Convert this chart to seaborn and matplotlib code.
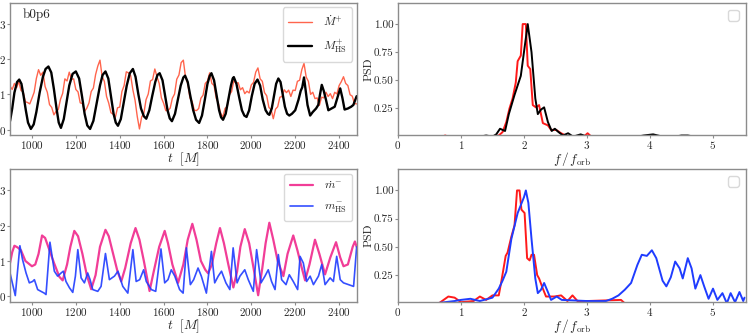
import numpy as np
import pandas as pd
import matplotlib
matplotlib.use("Agg")
import matplotlib.pyplot as plt
import seaborn as sns

# =========================================================
# DATA
# =========================================================

# top-left: accretion rate Mdot+ (noisy), sampled every 10 M
t_mdot_plus = np.arange(900, 2481, 10)
mdot_plus = [
    1.23, 1.14, 1.31, 1.19, 1.37, 1.11, 1.07, 0.79, 0.77, 0.73,
    0.89, 1.06, 1.45, 1.70, 1.54, 1.63, 1.22, 1.06, 0.71, 0.63,
    0.42, 0.52, 0.57, 0.86, 1.03, 1.44, 1.38, 1.63, 1.43, 1.44,
    1.14, 1.07, 0.76, 0.74, 0.52, 0.61, 0.76, 1.08, 1.18, 1.56,
    1.80, 1.97, 1.50, 1.37, 0.94, 0.75, 0.48, 0.44, 0.35, 0.62,
    0.64, 1.08, 1.25, 1.64, 1.61, 1.53, 1.13, 0.83, 0.37, 0.02,
    0.36, 0.46, 0.85, 1.01, 1.38, 1.42, 1.72, 1.50, 1.31, 0.90,
    0.75, 0.54, 0.54, 0.61, 0.89, 1.01, 1.43, 1.55, 1.90, 1.97,
    1.48, 1.31, 0.90, 0.80, 0.55, 0.54, 0.60, 0.89, 0.98, 1.31,
    1.38, 1.61, 1.31, 1.25, 0.89, 0.74, 0.47, 0.35, 0.60, 0.66,
    0.99, 1.08, 1.39, 1.32, 1.33, 1.13, 1.19, 1.02, 1.09, 1.04,
    1.27, 1.34, 1.63, 1.75, 1.44, 1.37, 1.05, 0.96, 0.63, 0.57,
    0.31, 0.58, 0.65, 0.92, 0.94, 1.13, 1.05, 1.12, 0.94, 1.12,
    1.11, 1.37, 1.40, 1.70, 1.88, 1.49, 1.37, 1.00, 1.06, 0.88,
    0.90, 0.69, 0.92, 0.90, 1.06, 0.94, 1.02, 0.88, 1.06, 1.01,
    1.25, 1.36, 1.50, 1.31, 1.25, 0.99, 0.95, 0.74, 0.73,
]

# top-left: hot-spot mass M_HS+
t_mhs_plus = [
    900, 910, 920, 932, 942, 952, 962, 972, 982, 995,
    1008, 1020, 1035, 1050, 1062, 1075, 1088, 1100, 1112, 1122,
    1132, 1145, 1158, 1170, 1185, 1200, 1215, 1228, 1240, 1252,
    1265, 1280, 1295, 1310, 1322, 1335, 1348, 1360, 1372, 1382,
    1392, 1405, 1418, 1432, 1446, 1460, 1472, 1485, 1497, 1510,
    1521, 1535, 1548, 1562, 1572, 1582, 1595, 1607, 1618, 1628,
    1638, 1652, 1665, 1678, 1690, 1698, 1710, 1722, 1735, 1748,
    1762, 1775, 1788, 1800, 1810, 1818, 1830, 1842, 1853, 1862,
    1871, 1883, 1895, 1907, 1915, 1920, 1932, 1945, 1957, 1968,
    1978, 1990, 2002, 2015, 2028, 2040, 2052, 2065, 2075, 2082,
    2093, 2103, 2113, 2123, 2133, 2143, 2153, 2163, 2173, 2185,
    2200, 2215, 2225, 2232, 2240, 2248, 2256, 2268, 2280, 2295,
    2305, 2313, 2321, 2330, 2340, 2351, 2365, 2380, 2392, 2405,
    2415, 2425, 2440, 2455, 2465, 2480,
]
mhs_plus = [
    0.24, 0.60, 1.05, 1.35, 1.42, 1.30, 0.95, 0.55, 0.20, 0.02,
    0.15, 0.50, 1.05, 1.50, 1.72, 1.79, 1.62, 1.15, 0.60, 0.20,
    0.05, 0.30, 0.80, 1.25, 1.58, 1.65, 1.45, 0.95, 0.45, 0.12,
    0.02, 0.25, 0.75, 1.25, 1.55, 1.65, 1.45, 0.95, 0.45, 0.20,
    0.11, 0.30, 0.75, 1.25, 1.60, 1.72, 1.50, 1.00, 0.60, 0.38,
    0.31, 0.55, 0.95, 1.35, 1.55, 1.60, 1.40, 0.95, 0.55, 0.32,
    0.24, 0.45, 0.85, 1.25, 1.48, 1.53, 1.35, 0.95, 0.55, 0.28,
    0.19, 0.40, 0.85, 1.30, 1.52, 1.60, 1.40, 0.95, 0.55, 0.35,
    0.28, 0.45, 0.85, 1.25, 1.45, 1.49, 1.30, 0.90, 0.55, 0.40,
    0.36, 0.55, 0.95, 1.30, 1.42, 1.25, 0.85, 0.55, 0.45, 0.42,
    0.60, 0.95, 1.30, 1.45, 1.35, 1.00, 0.65, 0.45, 0.40, 0.45,
    0.55, 0.85, 1.10, 1.20, 1.48, 1.10, 0.70, 0.40, 0.50, 0.60,
    0.70, 1.00, 1.27, 1.10, 0.85, 0.55, 0.60, 0.65, 0.90, 1.17,
    0.90, 0.57, 0.60, 0.65, 0.70, 0.95,
]

# bottom-left: accretion rate mdot- (slightly noisy)
t_mdot_minus = [
    900, 910, 920, 935, 950, 970, 990, 1000, 1015, 1030,
    1046, 1060, 1080, 1100, 1125, 1140, 1160, 1175, 1193, 1210,
    1230, 1250, 1270, 1290, 1310, 1335, 1350, 1370, 1390, 1407,
    1425, 1450, 1472, 1490, 1510, 1536, 1555, 1580, 1605, 1620,
    1640, 1666, 1690, 1710, 1731, 1750, 1770, 1790, 1803, 1820,
    1840, 1857, 1875, 1895, 1918, 1935, 1950, 1970, 1990, 2010,
    2031, 2050, 2065, 2082, 2100, 2120, 2146, 2165, 2191, 2210,
    2230, 2245, 2265, 2290, 2310, 2336, 2360, 2386, 2405, 2420,
    2440, 2462, 2472, 2480,
]
mdot_minus = [
    0.94, 1.25, 1.43, 1.38, 1.30, 1.00, 0.90, 0.85, 0.90, 1.20,
    1.72, 1.65, 1.30, 0.95, 0.55, 0.45, 0.90, 1.40, 1.85, 1.70,
    1.20, 0.60, 0.20, 0.60, 1.40, 1.88, 1.70, 1.20, 0.70, 0.42,
    0.80, 1.50, 1.93, 1.60, 1.00, 0.15, 0.70, 1.40, 1.85, 1.50,
    0.90, 0.38, 0.90, 1.60, 2.05, 1.60, 1.00, 0.75, 0.65, 0.90,
    1.50, 1.93, 1.50, 0.90, 0.25, 0.70, 1.40, 1.90, 1.50, 0.80,
    0.03, 0.80, 1.50, 2.08, 1.60, 1.00, 0.57, 1.20, 1.72, 1.30,
    0.80, 0.45, 0.90, 1.60, 1.20, 0.62, 1.10, 1.53, 1.10, 0.85,
    0.90, 1.40, 1.55, 1.40,
]

# bottom-left: hot-spot mass m_HS-
t_mhs_minus = [
    900, 924, 945, 957, 973, 988, 1003, 1011, 1026, 1041,
    1056, 1064, 1082, 1102, 1117, 1133, 1143, 1155, 1171, 1186,
    1198, 1209, 1224, 1239, 1254, 1265, 1277, 1300, 1315, 1335,
    1353, 1376, 1392, 1399, 1414, 1437, 1460, 1475, 1491, 1509,
    1521, 1544, 1564, 1588, 1605, 1620, 1635, 1651, 1673, 1689,
    1704, 1722, 1737, 1757, 1772, 1795, 1818, 1833, 1849, 1864,
    1884, 1902, 1917, 1935, 1948, 1970, 1986, 2009, 2024, 2044,
    2062, 2077, 2092, 2108, 2123, 2138, 2158, 2173, 2191, 2211,
    2222, 2237, 2252, 2268, 2283, 2306, 2321, 2336, 2359, 2374,
    2389, 2405, 2420, 2443, 2466, 2480,
]
mhs_minus = [
    0.66, 0.02, 1.43, 1.04, 0.66, 0.38, 0.42, 0.47, 0.19, 0.14,
    0.09, 0.05, 1.53, 0.71, 0.57, 0.66, 0.71, 0.42, 0.24, 0.11,
    0.57, 1.32, 0.52, 0.38, 0.66, 0.47, 0.19, 0.14, 0.28, 1.21,
    0.47, 0.57, 0.71, 0.57, 0.28, 0.09, 1.32, 0.42, 0.47, 0.75,
    0.42, 0.19, 0.14, 1.34, 0.38, 0.47, 0.75, 0.57, 0.19, 0.09,
    1.37, 0.33, 0.47, 0.80, 0.57, 0.09, 1.27, 0.38, 0.57, 0.71,
    0.38, 0.19, 1.37, 0.38, 0.57, 0.75, 0.47, 0.14, 1.32, 0.38,
    0.57, 0.75, 0.42, 0.19, 1.18, 0.47, 0.33, 0.61, 0.42, 0.19,
    1.13, 0.94, 0.42, 0.57, 0.33, 0.57, 0.90, 0.33, 0.52, 0.42,
    1.13, 0.47, 0.38, 0.33, 0.28, 1.40,
]

# top-right: PSD of Mdot+ (red) and M_HS+ (black)
f_psd_mdot_plus = [0.0, 0.7, 0.75, 0.8, 1.5, 1.6, 1.66, 1.72, 1.77, 1.82, 1.87, 1.90,
                   1.95, 1.98, 2.03, 2.06, 2.10, 2.14, 2.19, 2.24, 2.30, 2.38,
                   2.43, 2.51, 2.59, 2.7, 2.95, 3.01, 3.07, 5.5]
psd_mdot_plus = [0.0, 0.0, 0.01, 0.0, 0.0, 0.01, 0.04, 0.13, 0.25, 0.34, 0.48, 0.67,
                 0.72, 1.00, 1.00, 0.63, 0.60, 0.28, 0.26, 0.28, 0.12, 0.10,
                 0.06, 0.06, 0.03, 0.0, 0.0, 0.03, 0.0, 0.0]
f_psd_mhs_plus = [0.0, 1.3, 1.4, 1.5, 1.56, 1.62, 1.7, 1.76, 1.85, 1.95, 2.00, 2.06,
                  2.12, 2.18, 2.22, 2.27, 2.32, 2.38, 2.44, 2.49, 2.55, 2.62, 2.7,
                  2.78, 2.9, 3.0, 3.8, 3.9, 4.05, 4.2, 4.4, 4.5, 4.6, 4.7, 5.5]
psd_mhs_plus = [0.0, 0.0, 0.01, 0.0, 0.02, 0.07, 0.05, 0.20, 0.37, 0.54, 0.75, 1.00,
                0.75, 0.34, 0.20, 0.24, 0.26, 0.13, 0.05, 0.07, 0.04, 0.01, 0.03,
                0.0, 0.02, 0.0, 0.0, 0.01, 0.02, 0.0, 0.0, 0.01, 0.01, 0.0, 0.0]

# bottom-right: PSD of mdot- (red) and m_HS- (blue)
f_psd_mdot_minus = [0.0, 0.65, 0.8, 0.9, 1.0, 1.2, 1.3, 1.4, 1.5, 1.6, 1.64, 1.71,
                    1.74, 1.80, 1.85, 1.89, 1.93, 1.96, 2.01, 2.05, 2.09, 2.12,
                    2.16, 2.21, 2.24, 2.30, 2.35, 2.48, 2.59, 2.69, 2.77, 2.85,
                    3.0, 3.54, 3.6, 5.5]
psd_mdot_minus = [0.0, 0.0, 0.06, 0.05, 0.01, 0.02, 0.06, 0.03, 0.07, 0.07, 0.19, 0.42,
                  0.45, 0.59, 0.69, 1.00, 1.00, 0.83, 0.80, 0.40, 0.38, 0.43,
                  0.43, 0.25, 0.22, 0.13, 0.06, 0.06, 0.07, 0.02, 0.07, 0.02,
                  0.02, 0.03, 0.0, 0.0]
f_psd_mhs_minus = [0.0, 0.6, 0.9, 1.0, 1.15, 1.3, 1.5, 1.6, 1.66, 1.72, 1.80, 1.90,
                   2.00, 2.03, 2.07, 2.12, 2.18, 2.22, 2.27, 2.32, 2.38, 2.43,
                   2.52, 2.60, 3.0, 3.3, 3.4, 3.5, 3.6, 3.7, 3.8, 3.87, 3.95,
                   4.03, 4.10, 4.20, 4.26, 4.33, 4.40, 4.47, 4.52, 4.60, 4.66,
                   4.72, 4.80, 4.86, 4.93, 5.00, 5.07, 5.15, 5.22, 5.28, 5.35,
                   5.42, 5.48, 5.50]
psd_mhs_minus = [0.0, 0.0, 0.02, 0.03, 0.04, 0.02, 0.05, 0.13, 0.20, 0.28, 0.57, 0.80,
                 0.94, 1.00, 0.89, 0.57, 0.22, 0.09, 0.12, 0.18, 0.10, 0.03,
                 0.06, 0.03, 0.02, 0.02, 0.04, 0.07, 0.12, 0.18, 0.34, 0.43, 0.42,
                 0.47, 0.40, 0.20, 0.15, 0.23, 0.37, 0.31, 0.22, 0.40, 0.31,
                 0.13, 0.25, 0.15, 0.04, 0.13, 0.03, 0.09, 0.0, 0.09, 0.01,
                 0.10, 0.02, 0.05]

label_text = "b0p6"
t_ticks = [1000, 1200, 1400, 1600, 1800, 2000, 2200, 2400]

# =========================================================
# STYLE
# =========================================================

sns.set_style("white")
plt.rcParams["font.family"] = ["cmr10", "DejaVu Serif"]
plt.rcParams["mathtext.fontset"] = "cm"
plt.rcParams["axes.formatter.use_mathtext"] = True
plt.rcParams["axes.edgecolor"] = "0.55"
plt.rcParams["axes.linewidth"] = 1.0

fig = plt.figure(figsize=(7.48, 3.34), dpi=100)

ax_tl = fig.add_axes([0.0134, 0.596, 0.464, 0.396])
ax_tr = fig.add_axes([0.532, 0.596, 0.465, 0.396])
ax_bl = fig.add_axes([0.0134, 0.097, 0.464, 0.397])
ax_br = fig.add_axes([0.532, 0.097, 0.465, 0.397])

red_ts = "#ff4a2e"
pink = "#f0288c"
blue = "#1f3cff"
red_psd = "#ff1a1a"

# =========================================================
# TIME SERIES
# =========================================================

sns.lineplot(x=t_mdot_plus, y=mdot_plus, ax=ax_tl, color=red_ts, lw=1.0,
             alpha=0.85, label=r"$\dot{M}^{+}$")
sns.lineplot(x=t_mhs_plus, y=mhs_plus, ax=ax_tl, color="black", lw=1.7,
             label=r"$M^{+}_{\rm HS}$")

sns.lineplot(x=t_mdot_minus, y=mdot_minus, ax=ax_bl, color=pink, lw=1.6,
             alpha=0.9, label=r"$\dot{m}^{-}$")
sns.lineplot(x=t_mhs_minus, y=mhs_minus, ax=ax_bl, color=blue, lw=1.2,
             alpha=0.9, label=r"$m^{-}_{\rm HS}$")

for ax in [ax_tl, ax_bl]:
    ax.set_xlim(900, 2482)
    ax.set_ylim(-0.15, 3.6)
    ax.set_xticks(t_ticks)
    ax.set_yticks([0, 1, 2, 3])
    ax.set_xlabel(r"$t\ \ [M]$", fontsize=9.5, labelpad=-0.5)
    ax.set_ylabel("")
    ax.legend(loc="upper right", fontsize=8.5, handlelength=2.0,
              handletextpad=0.9, borderpad=0.5, labelspacing=0.8,
              borderaxespad=0.4, framealpha=1.0, edgecolor="0.85")

ax_tl.text(0.035, 0.96, label_text, transform=ax_tl.transAxes,
           fontsize=9.5, va="top", ha="left")

# =========================================================
# PSD
# =========================================================

sns.lineplot(x=f_psd_mdot_plus, y=psd_mdot_plus, ax=ax_tr, color=red_psd, lw=1.4)
sns.lineplot(x=f_psd_mhs_plus, y=psd_mhs_plus, ax=ax_tr, color="black", lw=1.4)

sns.lineplot(x=f_psd_mdot_minus, y=psd_mdot_minus, ax=ax_br, color=red_psd, lw=1.4)
sns.lineplot(x=f_psd_mhs_minus, y=psd_mhs_minus, ax=ax_br, color=blue, lw=1.4)

for ax in [ax_tr, ax_br]:
    ax.set_xlim(0, 5.52)
    ax.set_ylim(0.015, 1.19)
    ax.set_xticks([0, 1, 2, 3, 4, 5])
    ax.set_yticks([0.25, 0.5, 0.75, 1.0])
    ax.set_yticklabels(["0.25", "0.50", "0.75", "1.00"])
    ax.set_xlabel(r"$f\,/\,f_{\rm orb}$", fontsize=9.5, labelpad=-0.5)
    ax.set_ylabel("PSD", fontsize=8.5, labelpad=0.5)
    ax.legend(handles=[], loc="upper right", framealpha=1.0, edgecolor="0.85")

for ax in [ax_tl, ax_tr, ax_bl, ax_br]:
    ax.tick_params(axis="both", which="major", labelsize=8, length=2.0,
                   width=0.8, color="0.55", pad=1.0, bottom=True, left=True)

plt.savefig("out.png", dpi=100)
